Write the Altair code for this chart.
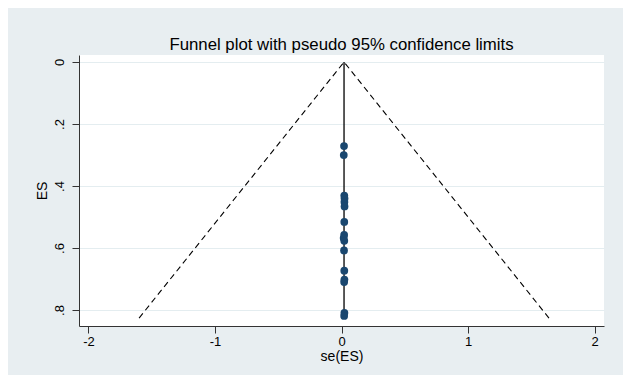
import altair as alt
import pandas as pd

# Study estimates (points)
es_values = [0.271, 0.300, 0.431, 0.440, 0.452, 0.466, 0.516, 0.558,
             0.568, 0.577, 0.608, 0.673, 0.702, 0.710, 0.809, 0.819]
se_values = [0.020, 0.018, 0.022, 0.024, 0.023, 0.024, 0.022, 0.021,
             0.017, 0.022, 0.020, 0.022, 0.023, 0.021, 0.023, 0.021]

# Pseudo 95% confidence limits (funnel) and centre line
funnel_x = [-1.60, 0.02, 1.64]
funnel_y = [0.826, 0.0, 0.826]
funnel_order = [0, 1, 2]
center_x = [0.02]
center_y = [0.0]
center_y2 = [0.826]

x_ticks = [-2, -1, 0, 1, 2]
y_ticks = [0, 0.2, 0.4, 0.6, 0.8]

points = pd.DataFrame({"se": se_values, "es": es_values})
funnel = pd.DataFrame({"x": funnel_x, "y": funnel_y, "o": funnel_order})
center = pd.DataFrame({"x": center_x, "y": center_y, "y2": center_y2})

FONT = "Liberation Sans"

xscale = alt.Scale(domain=[-2.075, 2.075], nice=False, zero=False)
yscale = alt.Scale(domain=[-0.0226, 0.8516], nice=False, zero=False, reverse=True)

xaxis = alt.Axis(values=x_ticks, title="se(ES)", grid=False, tickSize=7,
                 labelExpr="datum.value < 0 ? '-' + format(-datum.value, 'd') : format(datum.value, 'd')",
                 labelFontSize=13, titleFontSize=14, labelPadding=2,
                 titlePadding=1, labelFont=FONT, titleFont=FONT,
                 titleFontWeight="normal", domainColor="#333333",
                 tickColor="#333333", labelColor="#000000", titleColor="#000000")
yaxis = alt.Axis(values=y_ticks, title="ES", grid=True, gridColor="#e4edf0",
                 tickSize=7, labelAngle=270, labelAlign="center",
                 labelBaseline="bottom", labelPadding=6,
                 labelExpr="datum.value == 0 ? '0' : replace(format(datum.value, '.1f'), '0.', '.')",
                 labelFontSize=13, titleFontSize=14, titlePadding=4,
                 labelFont=FONT, titleFont=FONT, titleFontWeight="normal",
                 domainColor="#333333", tickColor="#333333",
                 labelColor="#000000", titleColor="#000000")

funnel_layer = alt.Chart(funnel).mark_line(
    color="#000000", strokeDash=[6, 4], strokeWidth=1.1
).encode(
    x=alt.X("x:Q", scale=xscale, axis=xaxis),
    y=alt.Y("y:Q", scale=yscale, axis=yaxis),
    order="o:Q",
)

center_layer = alt.Chart(center).mark_rule(color="#000000", strokeWidth=1.3).encode(
    x=alt.X("x:Q", scale=xscale),
    y=alt.Y("y:Q", scale=yscale),
    y2="y2:Q",
)

point_layer = alt.Chart(points).mark_circle(
    color="#1a476f", opacity=1, size=60
).encode(
    x=alt.X("se:Q", scale=xscale),
    y=alt.Y("es:Q", scale=yscale),
)

chart = alt.layer(funnel_layer, center_layer, point_layer).properties(
    width=525,
    height=271,
    autosize=alt.AutoSizeParams(type="none"),
    padding={"left": 71, "top": 47, "right": 19, "bottom": 49},
    background="#e8eef1",
    title=alt.TitleParams(
        "Funnel plot with pseudo 95% confidence limits",
        fontSize=16.8, fontWeight="normal", font=FONT, color="#000000",
        anchor="middle", offset=1,
    ),
).configure_view(fill="#ffffff", stroke=None)

chart.save("out.html", embed_options={"renderer": "svg", "actions": False})
